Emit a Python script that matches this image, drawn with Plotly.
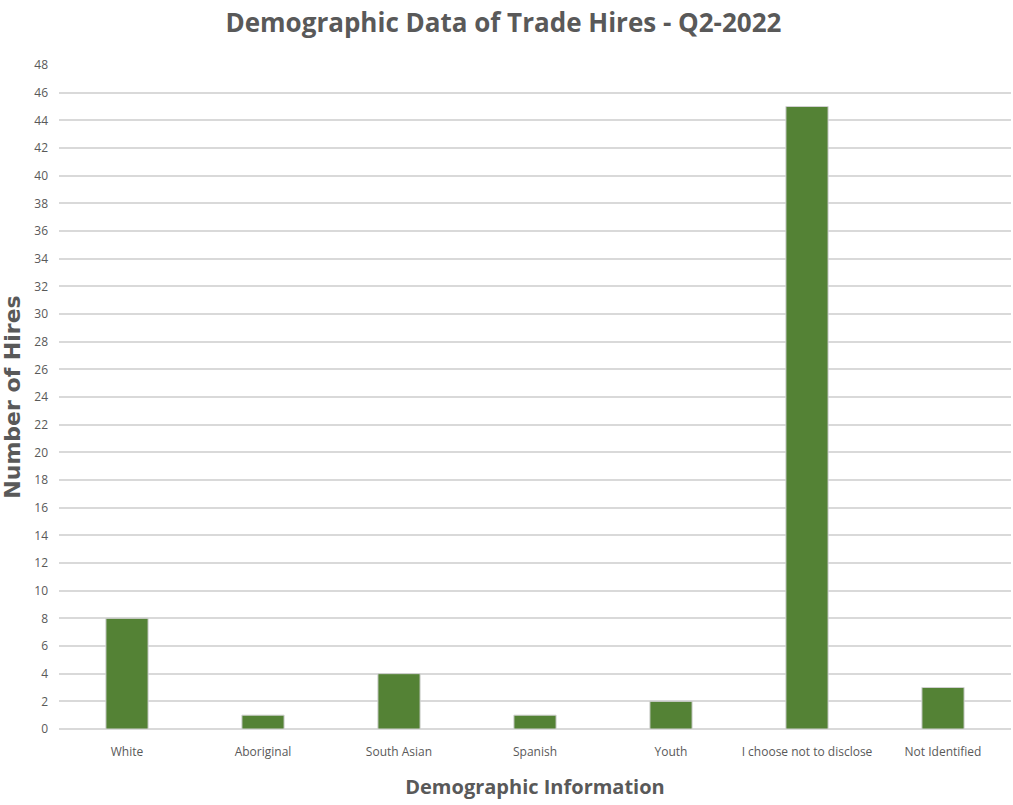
import plotly.graph_objects as go

categories = ["White", "Aboriginal", "South Asian", "Spanish", "Youth",
              "I choose not to disclose", "Not Identified"]
hires = [8, 1, 4, 1, 2, 45, 3]
y_ticks = list(range(0, 49, 2))

narrow = "Liberation Sans Narrow, Open Sans, sans-serif"
fig = go.Figure(go.Bar(
    x=categories, y=hires,
    marker=dict(color="#548235", line=dict(color="#d0d0d0", width=1)),
    width=0.31,
))
fig.update_layout(
    width=1013, height=805,
    margin=dict(l=59, r=2, t=65, b=76),
    paper_bgcolor="white", plot_bgcolor="white",
    showlegend=False,
    title=dict(text="<b>Demographic Data of Trade Hires - Q2-2022</b>",
               x=0.497, xanchor="center", y=0.972, yanchor="middle",
               font=dict(family=narrow, size=26, color="#595959")),
    xaxis=dict(
        title=dict(text="<b>Demographic Information</b>", standoff=20,
                   font=dict(family=narrow, size=20, color="#595959")),
        tickfont=dict(family=narrow, size=12, color="#595959"),
        showgrid=False, showline=False, ticks="", ticklabelstandoff=14,
    ),
    yaxis=dict(
        title=dict(text="<b>Number of Hires</b>", standoff=11,
                   font=dict(family="DejaVu Sans", size=22, color="#595959")),
        range=[0, 48], tickvals=y_ticks,
        tickfont=dict(family=narrow, size=12, color="#595959"),
        showgrid=True, gridcolor="#d9d9d9", gridwidth=1.5,
        zeroline=True, zerolinecolor="#d9d9d9", zerolinewidth=1.5,
        ticks="", ticklabelstandoff=10,
    ),
)
fig.write_html("out.html")
